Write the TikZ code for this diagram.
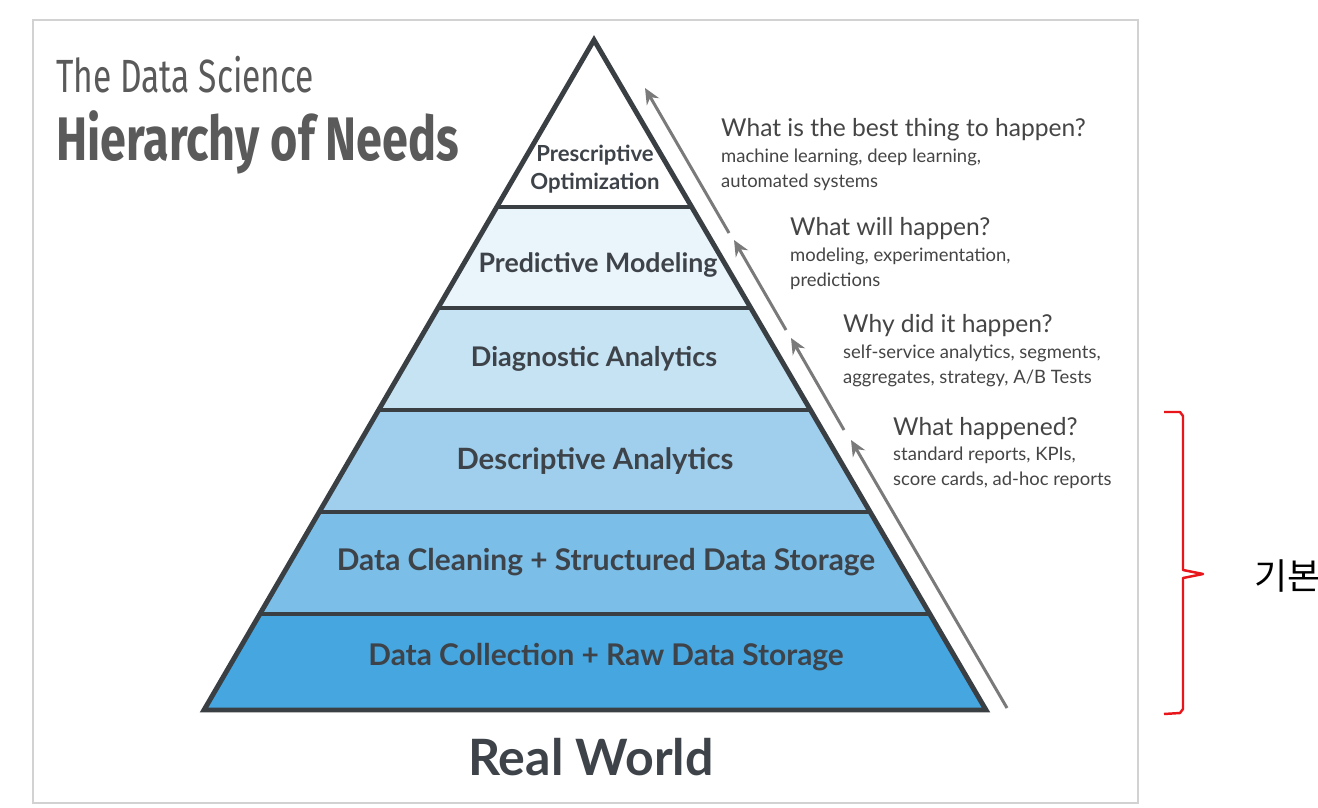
\documentclass[tikz,border=0pt]{standalone}
\usepackage{fontspec}
\setmainfont{Lato}
\newfontfamily\titlefont[FakeStretch=0.72]{Fira Sans}
\newfontfamily\titleboldfont[FakeStretch=0.76]{Fira Sans}
\newfontfamily\kofont{Noto Sans CJK KR}
\usetikzlibrary{arrows.meta,calc}
\definecolor{edgegrey}{HTML}{3A3F44}
\definecolor{labeltext}{HTML}{3D4349}
\definecolor{qtext}{HTML}{454545}
\definecolor{titlegrey}{HTML}{5A5A5A}
\definecolor{flowgrey}{HTML}{7A7A7A}
\definecolor{boxgrey}{HTML}{D2D2D2}
\definecolor{layA}{HTML}{EAF4FB}
\definecolor{layB}{HTML}{C6E3F4}
\definecolor{layC}{HTML}{9FCFED}
\definecolor{layD}{HTML}{7BBEE8}
\definecolor{layE}{HTML}{46A6DF}
\definecolor{bracketred}{HTML}{E8161B}
\tikzset{
  layer/.style={font=\bfseries\fontsize{17}{19}\selectfont, text=labeltext, align=center},
  question/.style={anchor=west, font=\fontsize{14}{16}\selectfont, text=qtext},
  detail/.style={anchor=west, align=left, font=\fontsize{10.5}{14.2}\selectfont, text=qtext},
  upflow/.style={draw=flowgrey, line width=1.7pt, -{Stealth[length=9pt,width=8pt]}},
}
\begin{document}
\begin{tikzpicture}[x=0.2mm,y=-0.2mm]
    \useasboundingbox (0,0) rectangle (1318,808);
    \fill[white] (0,0) rectangle (1318,808);
    \draw[boxgrey, line width=0.7pt] (33,20) rectangle (1138,803);
    % title
    \node[anchor=west, text=titlegrey, font=\titlefont\fontsize{26.5}{30}\selectfont] (ttl) at (50,75) {The Data Science};
    \node[anchor=west, text=titlegrey, font=\titleboldfont\bfseries\fontsize{35}{38}\selectfont] (sub) at (50,142) {Hierarchy of Needs};
    % pyramid
    \coordinate (apex) at (594,40);
    \coordinate (bl) at (204,710);
    \coordinate (br) at (986,710);
    \foreach \i/\t in {1/0.2493,2/0.4,3/0.5522,4/0.7045,5/0.8567} {
        \coordinate (L\i) at ($(apex)!\t!(bl)$);
        \coordinate (R\i) at ($(apex)!\t!(br)$);
    }
    \fill[white] (apex) -- (R1) -- (L1) -- cycle;
    \fill[layA] (L1) -- (R1) -- (R2) -- (L2) -- cycle;
    \fill[layB] (L2) -- (R2) -- (R3) -- (L3) -- cycle;
    \fill[layC] (L3) -- (R3) -- (R4) -- (L4) -- cycle;
    \fill[layD] (L4) -- (R4) -- (R5) -- (L5) -- cycle;
    \fill[layE] (L5) -- (R5) -- (br) -- (bl) -- cycle;
    \foreach \i in {1,...,5}
        \draw[edgegrey, line width=2.8pt] (L\i) -- (R\i);
    \draw[edgegrey, line width=2.8pt] (apex) -- (br) -- (bl) -- cycle;
    % layer labels
    \node[layer, font=\bfseries\fontsize{12.6}{16}\selectfont] (presc) at (595,169) {Prescriptive\\Optimization};
    \node[layer, font=\bfseries\fontsize{15.2}{18}\selectfont] (pred) at (598,265) {Predictive Modeling};
    \node[layer, font=\bfseries\fontsize{15.4}{18}\selectfont] (diag) at (594,359) {Diagnostic Analytics};
    \node[layer, font=\bfseries\fontsize{16.7}{19}\selectfont] (desc) at (595,461) {Descriptive Analytics};
    \node[layer] (clean) at (606,562) {Data Cleaning + Structured Data Storage};
    \node[layer] (collect) at (606,657) {Data Collection + Raw Data Storage};
    \node[font=\bfseries\fontsize{28.5}{32}\selectfont, text=labeltext] (world) at (591,757) {Real World};
    % arrows up the side
    \coordinate (f0) at (1007,708);
    \coordinate (f1) at (851,440);
    \coordinate (f2) at (844,430);
    \coordinate (f3) at (791,338);
    \coordinate (f4) at (786,330);
    \coordinate (f5) at (734,240);
    \coordinate (f6) at (729,233);
    \coordinate (f7) at (645,88);
    \draw[upflow] (f0) -- (f1);
    \draw[upflow] (f2) -- (f3);
    \draw[upflow] (f4) -- (f5);
    \draw[upflow] (f6) -- (f7);
    % questions
    \node[question] (q1) at (715,130) {What is the best thing to happen?};
    \node[detail] (d1) at (715,170) {machine learning, deep learning,\\automated systems};
    \node[question] (q2) at (784,229) {What will happen?};
    \node[detail] (d2) at (784,269) {modeling, experimentation,\\predictions};
    \node[question] (q3) at (837,326) {Why did it happen?};
    \node[detail] (d3) at (837,366) {self-service analytics, segments,\\aggregates, strategy, A/B Tests};
    \node[question] (q4) at (887,429) {What happened?};
    \node[detail] (d4) at (887,468) {standard reports, KPIs,\\score cards, ad-hoc reports};
    % bracket
    \draw[bracketred, line width=1.4pt, line join=round] (1164,412) -- (1180,412) -- (1183,416) -- (1183,570) -- (1203,574) -- (1183,578) -- (1183,709) -- (1180,713) -- (1164,714);
    \node[anchor=west, font=\kofont\fontsize{20.5}{24}\selectfont] (basic) at (1248,576) {기본};
\end{tikzpicture}
\end{document}
